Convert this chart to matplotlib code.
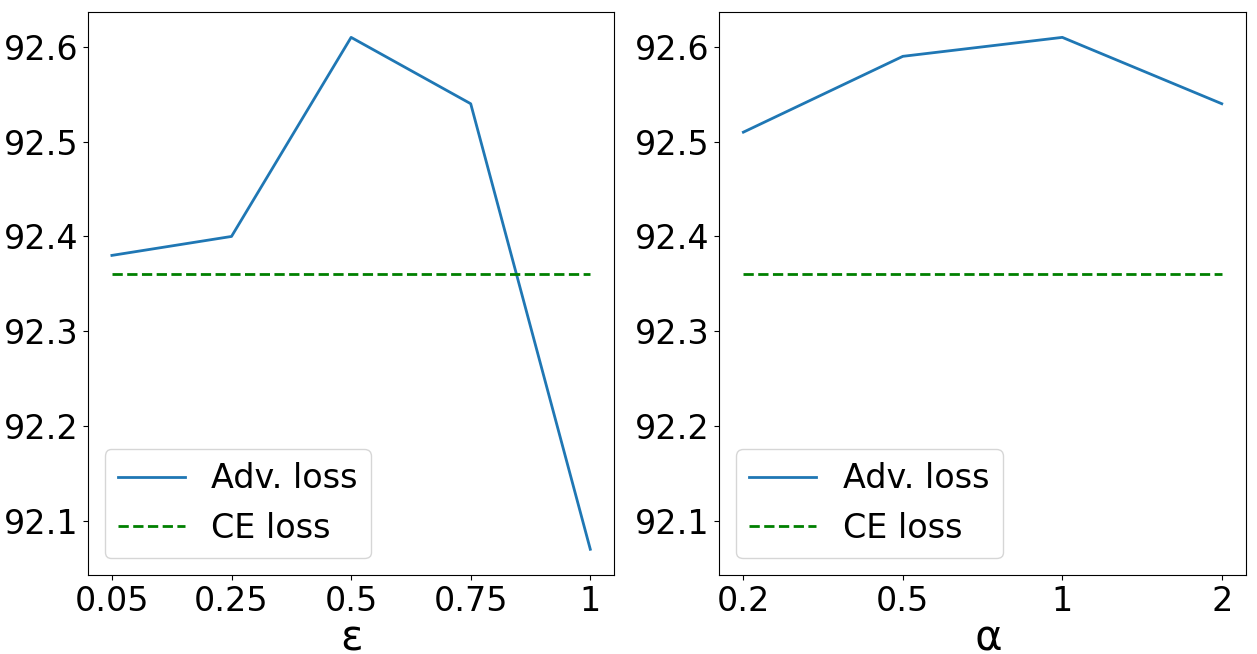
import matplotlib
matplotlib.use("Agg")
import matplotlib.pyplot as plt

# left panel: epsilon
eps_labels = ["0.05", "0.25", "0.5", "0.75", "1"]
eps_adv = [92.38, 92.40, 92.61, 92.54, 92.07]
eps_ce = [92.36, 92.36, 92.36, 92.36, 92.36]

# right panel: alpha
alpha_labels = ["0.2", "0.5", "1", "2"]
alpha_adv = [92.51, 92.59, 92.61, 92.54]
alpha_ce = [92.36, 92.36, 92.36, 92.36]

plt.rcParams["font.size"] = 24

fig, (ax1, ax2) = plt.subplots(1, 2, figsize=(12.57, 6.54), dpi=100, sharey=True)
fig.subplots_adjust(left=0.070, right=0.991, top=0.982, bottom=0.121, wspace=0.2)

for ax, labels, adv, ce, xl in [
    (ax1, eps_labels, eps_adv, eps_ce, "ε"),
    (ax2, alpha_labels, alpha_adv, alpha_ce, " α"),
]:
    x = range(len(labels))
    ax.plot(x, adv, color="#1f77b4", linewidth=2, label="Adv. loss")
    ax.plot(x, ce, color="green", linestyle="--", linewidth=2, label="CE loss")
    ax.set_xticks(list(x))
    ax.set_xticklabels(labels)
    ax.set_xlabel(xl, fontsize=30, labelpad=0)
    ax.legend(loc="lower left", fontsize=24)
    ax.tick_params(labelleft=True)

ax1.set_ylim(92.043, 92.637)

fig.savefig("out.png")
